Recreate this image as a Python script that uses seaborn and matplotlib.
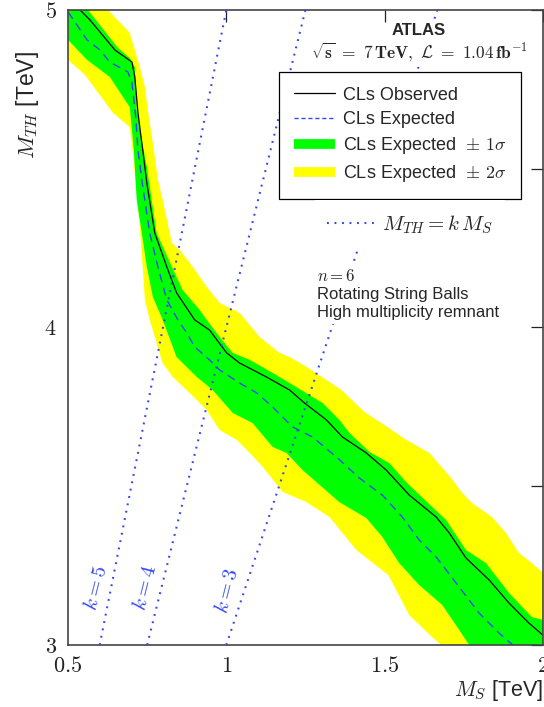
import numpy as np
import pandas as pd
import matplotlib
matplotlib.use("Agg")
import matplotlib.pyplot as plt
from matplotlib.lines import Line2D
import seaborn as sns

# Observed CLs exclusion contour (M_S, M_TH) in TeV
obs_ms = [0.538, 0.569, 0.648, 0.702, 0.711, 0.721, 0.736, 0.749, 0.774, 0.812,
          0.843, 0.900, 0.947, 1.001, 1.042, 1.127, 1.200, 1.247, 1.316, 1.367,
          1.442, 1.505, 1.578, 1.663, 1.704, 1.757, 1.830, 1.893, 1.956, 2.000]
obs_mth = [5.000, 4.969, 4.874, 4.836, 4.789, 4.676, 4.559, 4.455, 4.298, 4.191,
           4.109, 4.024, 3.992, 3.920, 3.888, 3.844, 3.803, 3.762, 3.709, 3.655,
           3.605, 3.551, 3.472, 3.403, 3.353, 3.274, 3.205, 3.132, 3.069, 3.031]

# Expected contour
exp_ms = [0.500, 0.560, 0.601, 0.632, 0.689, 0.702, 0.714, 0.721, 0.733, 0.758,
          0.784, 0.812, 0.847, 0.875, 0.900, 0.947, 0.979, 1.042, 1.096, 1.146,
          1.209, 1.272, 1.348, 1.420, 1.493, 1.556, 1.609, 1.663, 1.726, 1.798,
          1.861, 1.905]
exp_mth = [4.994, 4.906, 4.874, 4.836, 4.805, 4.770, 4.663, 4.559, 4.465, 4.298,
           4.191, 4.087, 4.024, 3.983, 3.939, 3.898, 3.866, 3.825, 3.794, 3.750,
           3.687, 3.655, 3.592, 3.526, 3.472, 3.403, 3.331, 3.277, 3.195, 3.101,
           3.038, 3.000]

# +1 sigma / -1 sigma edges of the expected band
s1_hi_ms = [0.563, 0.658, 0.695, 0.711, 0.717, 0.733, 0.749, 0.780, 0.828, 0.862,
            0.916, 0.938, 0.979, 1.020, 1.074, 1.146, 1.200, 1.304, 1.357, 1.389,
            1.452, 1.515, 1.568, 1.650, 1.694, 1.757, 1.820, 1.893, 1.965, 2.000]
s1_hi_mth = [5.000, 4.880, 4.849, 4.820, 4.685, 4.591, 4.506, 4.298, 4.191, 4.118,
             4.055, 4.024, 3.970, 3.920, 3.898, 3.857, 3.825, 3.762, 3.709, 3.668,
             3.608, 3.573, 3.513, 3.435, 3.394, 3.299, 3.258, 3.164, 3.088, 3.079]
s1_lo_ms = [0.500, 0.560, 0.632, 0.695, 0.708, 0.717, 0.733, 0.749, 0.768, 0.799,
            0.843, 0.907, 0.957, 1.020, 1.083, 1.146, 1.190, 1.241, 1.357, 1.442,
            1.493, 1.546, 1.609, 1.682, 1.723, 1.767]
s1_lo_mth = [4.906, 4.843, 4.789, 4.694, 4.559, 4.402, 4.298, 4.191, 4.096, 4.024,
             3.907, 3.844, 3.803, 3.731, 3.699, 3.624, 3.605, 3.551, 3.450, 3.400,
             3.340, 3.258, 3.189, 3.126, 3.066, 3.000]

# +2 sigma / -2 sigma edges
s2_hi_ms = [0.626, 0.695, 0.727, 0.743, 0.752, 0.768, 0.784, 0.799, 0.828, 0.853,
            0.894, 0.938, 0.979, 1.042, 1.105, 1.168, 1.200, 1.253, 1.364, 1.436,
            1.499, 1.568, 1.641, 1.669, 1.710, 1.745, 1.776, 1.839, 1.883, 1.924,
            1.965, 2.000]
s2_hi_mth = [5.000, 4.928, 4.820, 4.757, 4.685, 4.581, 4.465, 4.402, 4.266, 4.244,
             4.191, 4.128, 4.077, 4.046, 3.970, 3.920, 3.907, 3.876, 3.803, 3.734,
             3.693, 3.646, 3.605, 3.573, 3.526, 3.479, 3.447, 3.403, 3.353, 3.290,
             3.258, 3.227]
s2_lo_ms = [0.500, 0.554, 0.642, 0.695, 0.705, 0.727, 0.743, 0.758, 0.799, 0.831,
            0.884, 0.938, 0.979, 1.033, 1.074, 1.115, 1.178, 1.253, 1.326, 1.411,
            1.512, 1.578, 1.650, 1.679]
s2_lo_mth = [4.843, 4.795, 4.676, 4.631, 4.550, 4.317, 4.087, 4.024, 3.888, 3.844,
             3.794, 3.740, 3.677, 3.646, 3.605, 3.561, 3.482, 3.450, 3.403, 3.299,
             3.220, 3.094, 3.025, 3.000]

# Lines of constant ratio M_TH = k M_S
k_values = [3, 4, 5]
k_label_pos = [(1.004, 3.17), (0.743, 3.18), (0.588, 3.18)]

x_ticks = [0.5, 1.0, 1.5, 2.0]
x_tick_labels = [r"$0.5$", r"$1$", r"$1.5$", r"$2$"]
y_ticks = [3.0, 3.5, 4.0, 4.5, 5.0]
y_tick_labels = [r"$3$", "", r"$4$", "", r"$5$"]

GREEN = "#00ff00"
YELLOW = "#ffff00"
BLUE = "#3448f0"

sns.set_theme(style="white")
plt.rcParams["font.family"] = ["Liberation Sans", "DejaVu Sans"]
plt.rcParams["mathtext.fontset"] = "cm"

fig = plt.figure(figsize=(5.44, 7.07), dpi=100)
ax = fig.add_axes([0.125, 0.0877, 0.873, 0.8982])


def band(hi_x, hi_y, lo_x, lo_y):
    xs = list(hi_x) + [hi_x[-1]] + list(lo_x[::-1]) + [lo_x[0]]
    ys = list(hi_y) + [lo_y[-1]] + list(lo_y[::-1]) + [hi_y[0]]
    return xs, ys


xs, ys = band(s2_hi_ms, s2_hi_mth, s2_lo_ms, s2_lo_mth)
ax.fill(xs, ys, color=YELLOW, lw=0, zorder=1)
xs, ys = band(s1_hi_ms, s1_hi_mth, s1_lo_ms, s1_lo_mth)
ax.fill(xs, ys, color=GREEN, lw=0, zorder=1.1)

sns.lineplot(x=exp_ms, y=exp_mth, sort=False, estimator=None, ax=ax,
             color=BLUE, lw=1.0, linestyle=(0, (6, 4)), zorder=2)
sns.lineplot(x=obs_ms, y=obs_mth, sort=False, estimator=None, ax=ax,
             color="black", lw=0.9, zorder=2.1)

for k, (lx, ly) in zip(k_values, k_label_pos):
    ms = np.array([3.0 / k, 5.0 / k])
    kdf = pd.DataFrame({"ms": ms, "mth": k * ms})
    sns.lineplot(data=kdf, x="ms", y="mth", sort=False, estimator=None, ax=ax,
                 color=BLUE, lw=1.5, linestyle=(0, (0.9, 2.7)), zorder=3)
    ax.text(lx, ly, rf"$k = {k}$", color=BLUE, fontsize=15, rotation=76,
            ha="center", va="center", zorder=3)

ax.set_xlim(0.5, 2.0)
ax.set_ylim(3.0, 5.0)
ax.set_xticks(x_ticks)
ax.set_xticklabels(x_tick_labels, fontsize=16)
ax.set_yticks(y_ticks)
ax.set_yticklabels(y_tick_labels, fontsize=16)
ax.tick_params(direction="in", length=8.5, width=0.9, top=True, right=True,
               colors="#222222", pad=8)
for sp in ax.spines.values():
    sp.set_color("#444444")
    sp.set_linewidth(1.2)

ax.set_xlabel(r"$M_S$ [TeV]", fontsize=15.5)
ax.xaxis.set_label_coords(1.0, -0.072)
ax.xaxis.label.set_horizontalalignment("right")
ax.xaxis.label.set_verticalalignment("center")
ax.set_ylabel(r"$M_{TH}$ [TeV]", fontsize=16.5)
ax.yaxis.set_label_coords(-0.086, 0.85)
ax.yaxis.label.set_verticalalignment("center")

white_box = dict(facecolor="white", edgecolor="none", pad=2)
ax.text(0.739, 0.967, "ATLAS", transform=ax.transAxes, fontsize=12,
        fontweight="bold", ha="center", va="center", zorder=6, bbox=white_box)
ax.text(0.739, 0.933, r"$\sqrt{\mathbf{s}}\ \mathbf{=\ 7\,TeV,}\ \mathcal{L}\ \mathbf{=\ 1.04\,fb}^{\mathbf{-1}}$",
        transform=ax.transAxes, fontsize=12.5, ha="center", va="center",
        zorder=6, bbox=white_box)

handles = [Line2D([], [], color="black", lw=0.9),
           Line2D([], [], color=BLUE, lw=1.0, linestyle=(0, (3, 2))),
           Line2D([], [], color=GREEN, lw=7, solid_capstyle="butt"),
           Line2D([], [], color=YELLOW, lw=7, solid_capstyle="butt")]
labels = ["CLs Observed", "CLs Expected",
          r"CLs Expected $\,\pm\,1\sigma$", r"CLs Expected $\,\pm\,2\sigma$"]
leg1 = ax.legend(handles, labels, loc="upper left", bbox_to_anchor=(0.445, 0.902),
                 frameon=True, fancybox=False, framealpha=1, edgecolor="black",
                 fontsize=13, handlelength=2.3, handletextpad=0.4,
                 borderpad=0.8, labelspacing=0.4, borderaxespad=0)
leg1.get_frame().set_linewidth(0.9)
leg1.set_zorder(6)
ax.add_artist(leg1)

k_handle = Line2D([], [], color=BLUE, lw=1.5, linestyle=(0, (0.9, 2.7)))
leg2 = ax.legend([k_handle], [r"$M_{TH} = k\,M_S$"], loc="upper left",
                 bbox_to_anchor=(0.52, 0.70), frameon=True, fancybox=False,
                 framealpha=1, edgecolor="none", facecolor="white",
                 fontsize=15, handlelength=2.3, handletextpad=0.3,
                 borderpad=0.6, borderaxespad=0)
leg2.set_zorder(6)

ax.text(0.525, 0.594, "$n = 6$\nRotating String Balls\nHigh multiplicity remnant",
        transform=ax.transAxes, fontsize=12, ha="left", va="top",
        linespacing=1.25, zorder=6,
        bbox=dict(facecolor="white", edgecolor="none", pad=3))

fig.savefig("out.png", dpi=100)
